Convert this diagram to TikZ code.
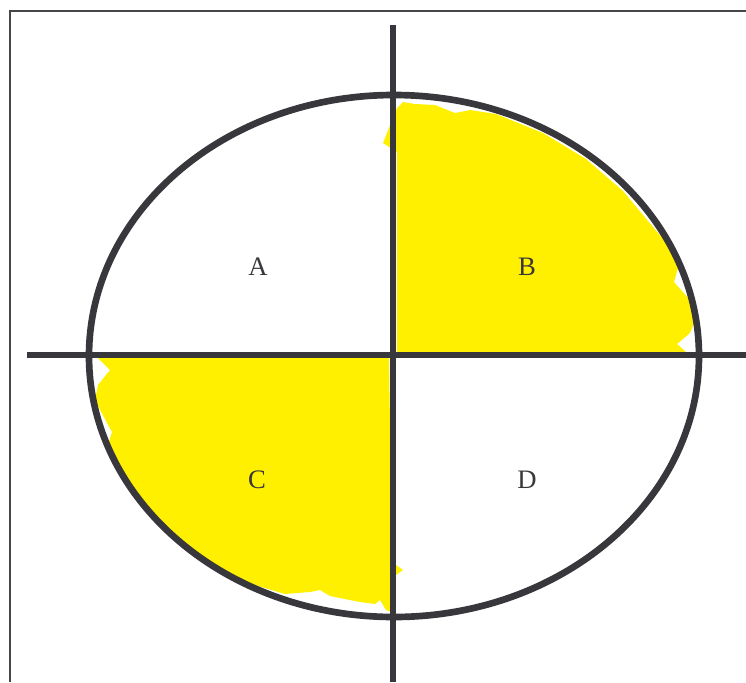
\documentclass[tikz,border=0pt]{standalone}
\usepackage{fontspec}
\setmainfont{Liberation Serif}
\definecolor{axisgray}{RGB}{56,55,60}
\definecolor{framegray}{RGB}{70,70,74}
\definecolor{paint}{RGB}{255,240,0}

\begin{document}
\begin{tikzpicture}[
  x=0.75pt, y=-0.75pt,
  axis/.style = {draw=axisgray, line width=5pt},
  blob/.style = {fill=paint, draw=none},
  quadlabel/.style = {text=axisgray, font=\fontsize{20}{22}\selectfont, inner sep=0pt}
]
\useasboundingbox (0,0) rectangle (746,682);
%--- MARCO ---
\draw[framegray, line width=1.5pt] (10,682) -- (10,11) -- (746,11);
%--- CUADRANTE B (pintado) ---
\path[blob] (397,352) -- (686,352) -- (677,344) -- (690,333) -- (696,318)
  -- (690,300) -- (681,290) -- (674,282) -- (678,268) -- (668,245)
  -- (653,227) -- (623,191) -- (586,159) -- (543,133) -- (496,114)
  -- (470,110) -- (455,113) -- (435,105) -- (415,104) -- (403,102)
  -- (397,108) -- (383,143) -- (397,152) -- cycle;
%--- CUADRANTE C (pintado) ---
\path[blob] (389,358) -- (98,358) -- (110,370) -- (98,385) -- (95,400)
  -- (107,423) -- (112,432) -- (108,445) -- (130,486) -- (160,523)
  -- (198,555) -- (241,581) -- (285,594) -- (310,592) -- (320,590)
  -- (330,596) -- (360,602) -- (375,604) -- (380,600) -- (386,610)
  -- (392,612) -- (392,578) -- (403,570) -- (392,562) -- cycle;
%--- ELIPSE Y EJES ---
\draw[axis] (394,356) ellipse [x radius=305, y radius=261];
\draw[axis] (393,25) -- (393,682);
\draw[axis] (27,355) -- (746,355);
%--- ETIQUETAS ---
\node[quadlabel] (qa) at (258,267) {A};
\node[quadlabel] (qb) at (527,267) {B};
\node[quadlabel] (qc) at (257,480) {C};
\node[quadlabel] (qd) at (527,480) {D};
\end{tikzpicture}
\end{document}
